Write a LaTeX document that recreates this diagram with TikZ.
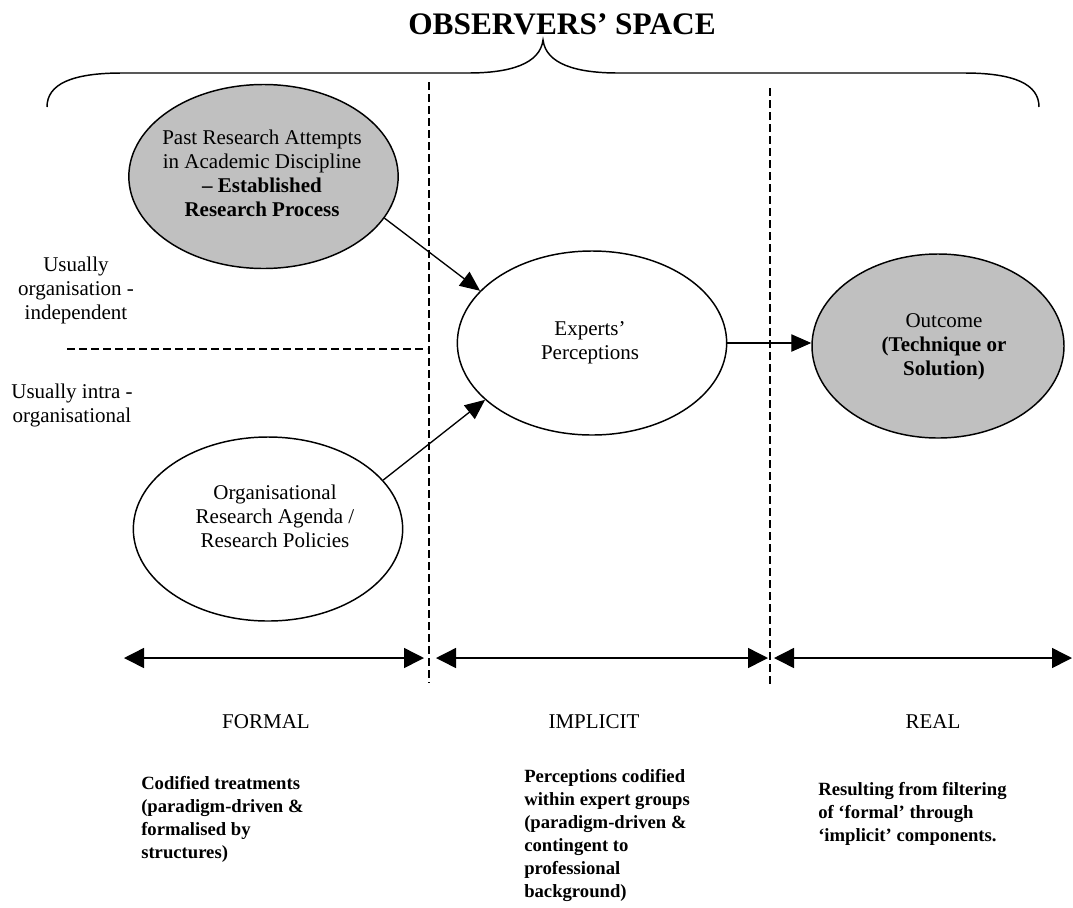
\documentclass[tikz,border=0pt]{standalone}
\usepackage{fontspec}
\setmainfont{Liberation Serif}
\usetikzlibrary{arrows.meta,shapes.geometric}
\definecolor{shade}{RGB}{192,192,192}
\begin{document}
\begin{tikzpicture}[x=0.75pt,y=-0.75pt,
  ell/.style={draw,line width=1.1pt,ellipse,inner sep=0pt,minimum width=202pt,minimum height=138pt},
  grayell/.style={ell,fill=shade},
  txt/.style={align=center,font=\fontsize{15.75}{18}\selectfont,inner sep=0pt},
  btxt/.style={align=left,font=\fontsize{14}{17.25}\selectfont\bfseries,inner sep=0pt,anchor=north west},
  conn/.style={line width=1pt,-{Triangle[length=15pt,width=13pt]}},
  span/.style={line width=1.1pt,{Triangle[length=15pt,width=15pt]}-{Triangle[length=15pt,width=15pt]}},
  dashline/.style={line width=1pt,dash pattern=on 6pt off 3pt}]
\useasboundingbox (0,0) rectangle (1073,907);

% title and brace
\node[font=\fontsize{23.5}{27}\selectfont\bfseries,inner sep=0pt] (title) at (562,24) {OBSERVERS’ SPACE};
\coordinate (bl) at (47,107);
\coordinate (br) at (1039,107);
\coordinate (tip) at (543,40);
\draw[line width=1.1pt] (bl) .. controls (47,84) and (72,73) .. (122,73) -- (468,73)
  .. controls (510,73) and (540,64) .. (tip)
  .. controls (546,64) and (576,73) .. (618,73) -- (964,73)
  .. controls (1014,73) and (1039,84) .. (br);

% dashed separators
\coordinate (v1t) at (429,82);  \coordinate (v1b) at (429,683);
\coordinate (v2t) at (770,88);  \coordinate (v2b) at (770,687);
\coordinate (h1) at (67,349);   \coordinate (h2) at (427,349);
\draw[dashline] (v1t) -- (v1b);
\draw[dashline] (v2t) -- (v2b);
\draw[dashline] (h1) -- (h2);

% ellipses
\node[grayell] (past) at (263.5,176.5) {};
\node[txt] (pasttext) at (262,173) {Past Research Attempts\\in Academic Discipline\\\textbf{– Established}\\\textbf{Research Process}};
\node[ell] (exp) at (592,343) {};
\node[txt] (exptext) at (590,343) {Experts’\\Perceptions};
\node[grayell,minimum width=189pt] (out) at (938,346) {};
\node[txt] (outtext) at (944,347) {Outcome\\\textbf{(Technique or}\\\textbf{Solution)}};
\node[ell] (org) at (268,529) {};
\node[txt] (orgtext) at (275,516) {Organisational\\Research Agenda /\\Research Policies};

% connectors
\draw[conn] (past.-19) -- (exp.155.5);
\draw[conn] (org.23) -- (exp.208);
\draw[conn] (exp.east) -- (exp.east -| out.west);

% left labels
\node[txt] (lab1) at (76,290) {Usually\\organisation -\\independent};
\node[txt] (lab2) at (72,405.5) {Usually intra -\\organisational};

% bottom spans
\coordinate (a1) at (124,658); \coordinate (a2) at (424,658);
\coordinate (a3) at (436,658); \coordinate (a4) at (768,658);
\coordinate (a5) at (774,658); \coordinate (a6) at (1072,658);
\draw[span] (a1) -- (a2);
\draw[span] (a3) -- (a4);
\draw[span] (a5) -- (a6);

\node[txt] (formal) at (266,722) {FORMAL};
\node[txt] (implicit) at (594,722) {IMPLICIT};
\node[txt] (real) at (933,722) {REAL};

\node[btxt] (formald) at (141,776) {Codified treatments\\(paradigm-driven \&\\formalised by\\structures)};
\node[btxt] (implicitd) at (524,769) {Perceptions codified\\within expert groups\\(paradigm-driven \&\\contingent to\\professional\\background)};
\node[btxt] (reald) at (818,782) {Resulting from filtering\\of ‘formal’ through\\‘implicit’ components.};
\end{tikzpicture}
\end{document}
